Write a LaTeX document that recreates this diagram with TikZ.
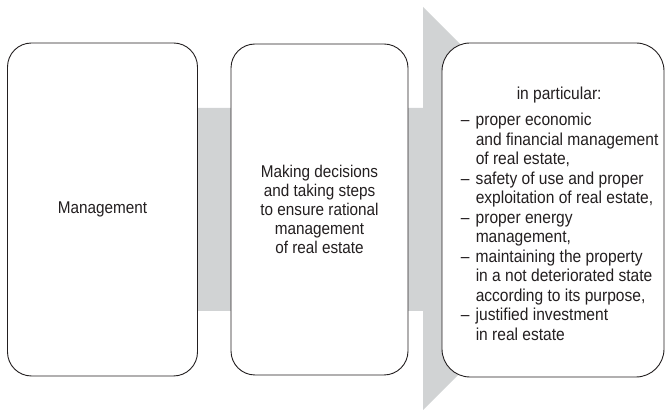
\documentclass[tikz,border=0pt]{standalone}
\usepackage{fontspec}
\setmainfont{Liberation Sans}[FakeStretch=0.9]
\usepackage{tikz}

\definecolor{bandgray}{RGB}{209,211,212}
\definecolor{inkgray}{RGB}{35,31,32}

\begin{document}
\begin{tikzpicture}[x = 1pt, y = -1pt,
  box/.style = {draw = inkgray, line width = 0.9pt, fill = white, rounded corners = 24pt,
                inner sep = 0pt, align = center, text = inkgray,
                font = \fontsize{17}{19.2}\selectfont}]
\useasboundingbox (0,0) rectangle (667,411);

% grey arrow behind the three boxes
\fill [bandgray] (40,108) -- (423,108) -- (423,7) -- (625,209) -- (423,410) -- (423,311) -- (40,311) -- cycle;

\node [box, minimum width = 190pt, minimum height = 333pt] (mgmt) at (102.5,209.5) {Management};
\node [box, minimum width = 177pt, minimum height = 331pt] (decide) at (319.5,209.5)
  {Making decisions\\and taking steps\\to ensure rational\\management\\of real estate};
\node [box, rounded corners = 28pt, minimum width = 222pt, minimum height = 334pt] (scope) at (553,210) {};
\node [anchor = west, inner sep = 0pt, align = left, text = inkgray,
       font = \fontsize{17.3}{19.5}\selectfont] (scopetext) at ([xshift = 19pt, yshift = -4pt] scope.west)
  {\hspace*{56pt}in particular:\\[6.5pt]
   \makebox[15pt][l]{--}proper economic\\
   \hspace*{15pt}and financial management\\
   \hspace*{15pt}of real estate,\\
   \makebox[15pt][l]{--}safety of use and proper\\
   \hspace*{15pt}exploitation of real estate,\\
   \makebox[15pt][l]{--}proper energy\\
   \hspace*{15pt}management,\\
   \makebox[15pt][l]{--}maintaining the property\\
   \hspace*{15pt}in a not deteriorated state\\
   \hspace*{15pt}according to its purpose,\\
   \makebox[15pt][l]{--}justified investment\\
   \hspace*{15pt}in real estate};
\end{tikzpicture}
\end{document}
